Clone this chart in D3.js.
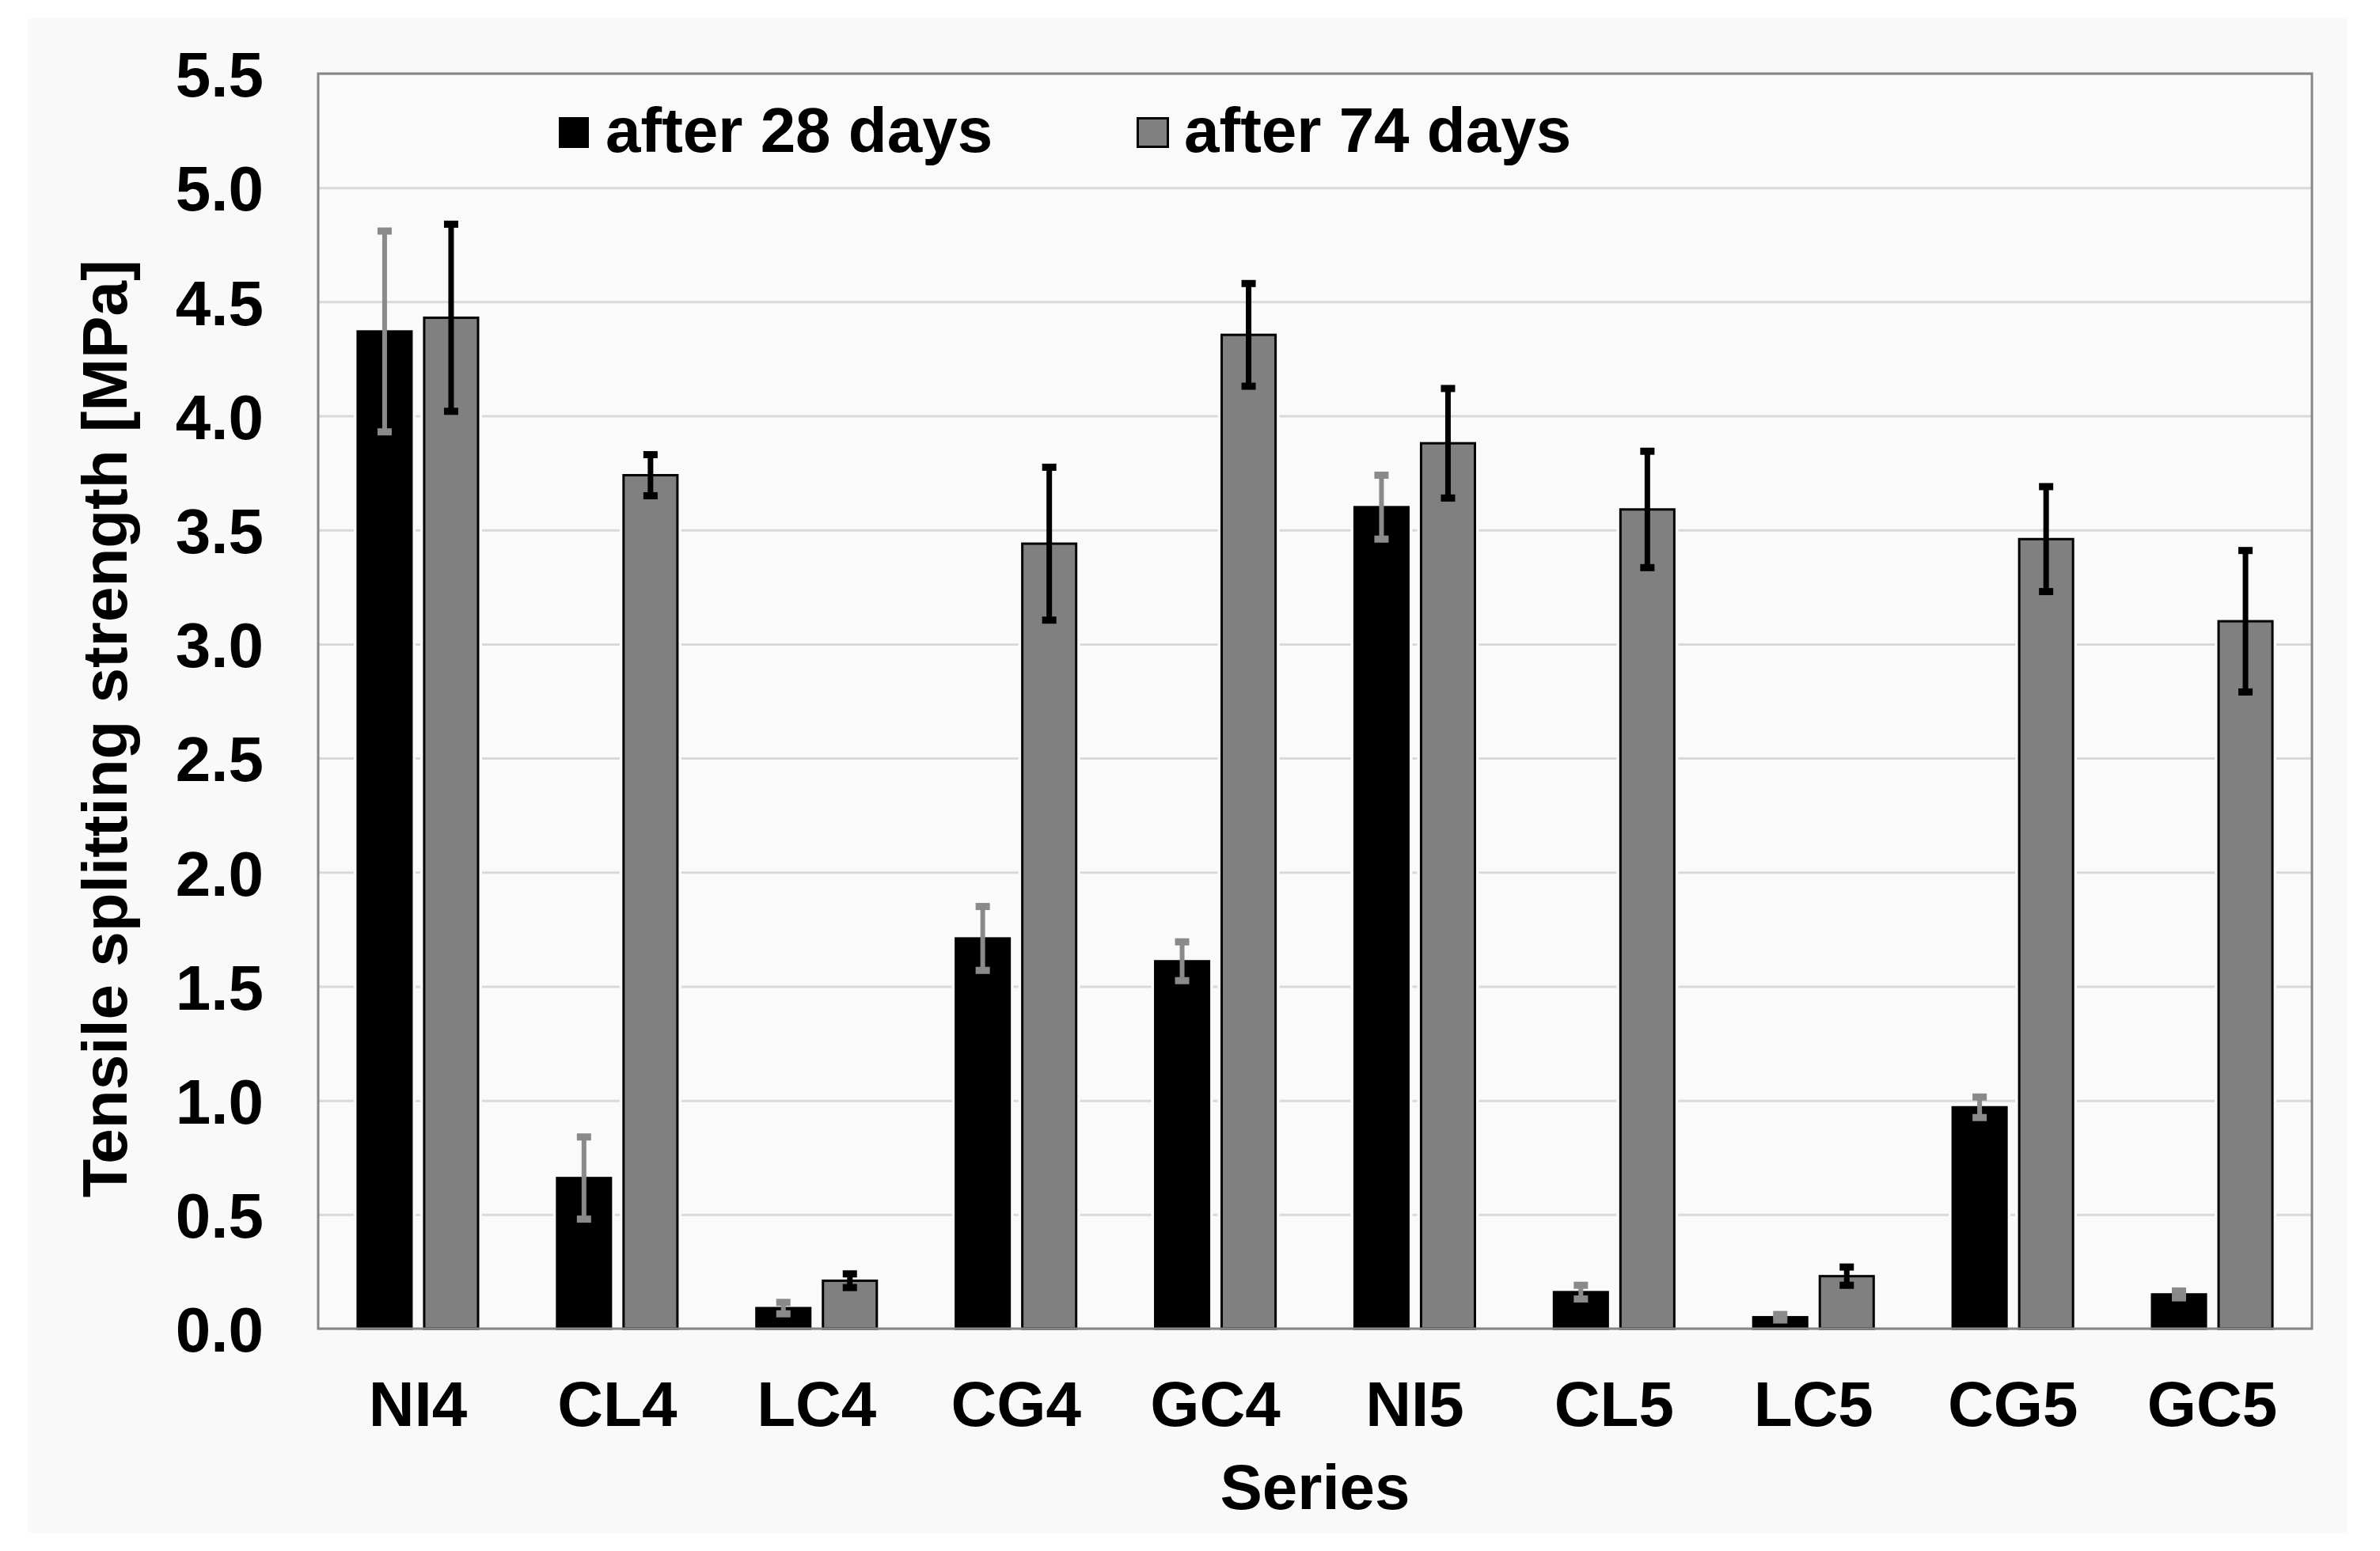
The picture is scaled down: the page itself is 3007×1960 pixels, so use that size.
<!DOCTYPE html>
<html>
<head>
<meta charset="utf-8">
<script src="https://cdn.jsdelivr.net/npm/d3@7/dist/d3.min.js"></script>
<style>
  html, body { margin: 0; padding: 0; background: #ffffff; }
  svg text { font-family: "Liberation Sans", Arial, sans-serif; font-weight: bold; fill: #000; }
</style>
</head>
<body>
<div id="chart"></div>
<script>
"use strict";

// values
var categories = ["NI4", "CL4", "LC4", "CG4", "GC4", "NI5", "CL5", "LC5", "CG5", "GC5"];
var seriesNames = ["after 28 days", "after 74 days"];
var days28 = [4.37, 0.66, 0.09, 1.71, 1.61, 3.60, 0.16, 0.05, 0.97, 0.15];
var err28 = [0.44, 0.18, 0.025, 0.14, 0.085, 0.14, 0.03, 0.012, 0.045, 0.015];
var days74 = [4.43, 3.74, 0.21, 3.44, 4.355, 3.88, 3.59, 0.23, 3.46, 3.10];
var err74 = [0.41, 0.09, 0.03, 0.335, 0.225, 0.24, 0.255, 0.04, 0.23, 0.31];
var yTicks = [0, 0.5, 1, 1.5, 2, 2.5, 3, 3.5, 4, 4.5, 5, 5.5];

var width = 3007, height = 1960;
var margin = {top: 93, right: 86, bottom: 281, left: 402};
var plotW = width - margin.left - margin.right;
var plotH = height - margin.top - margin.bottom;

var fills = ["#000000", "#808080"];
var errColors = ["#8a8a8a", "#000000"];

var rows = categories.map(function(c, i) {
	return {
		cat: c,
		bars: [
			{s: 0, v: days28[i], e: err28[i]},
			{s: 1, v: days74[i], e: err74[i]}
		]
	};
});

var svg = d3.select("#chart").append("svg")
	.attr("width", width)
	.attr("height", height);

// outer panel
svg.append("rect")
	.attr("x", 35).attr("y", 23)
	.attr("width", 2931).attr("height", 1914)
	.attr("fill", "#f9f9f9");

var g = svg.append("g")
	.attr("transform", "translate(" + margin.left + "," + margin.top + ")");

var x0 = d3.scaleBand().domain(categories).range([0, plotW]).paddingInner(0).paddingOuter(0);
var x1 = d3.scaleBand().domain([0, 1]).range([0, x0.bandwidth()]).paddingInner(0.19).paddingOuter(0.594);
var y = d3.scaleLinear().domain([0, 5.5]).range([plotH, 0]);

g.append("rect")
	.attr("width", plotW).attr("height", plotH)
	.attr("fill", "#fafafa");

// gridlines
g.append("g")
	.attr("class", "grid")
	.call(d3.axisLeft(y).tickValues(yTicks).tickSize(-plotW).tickFormat(""))
	.call(function(sel) {
		sel.select(".domain").remove();
		sel.selectAll("line").attr("stroke", "#d9d9d9").attr("stroke-width", 3);
	});

// bars
var groups = g.selectAll(".cat")
	.data(rows)
	.enter().append("g")
	.attr("class", "cat")
	.attr("transform", function(d) { return "translate(" + x0(d.cat) + ",0)"; });

// light halo that breaks the gridlines beside each bar
groups.selectAll(".halo")
	.data(function(d) { return d.bars; })
	.enter().append("rect")
	.attr("x", function(d) { return x1(d.s) - 5; })
	.attr("y", function(d) { return y(d.v) - 2; })
	.attr("width", x1.bandwidth() + 10)
	.attr("height", function(d) { return plotH - y(d.v) + 2; })
	.attr("fill", "#fafafa");

groups.selectAll(".bar")
	.data(function(d) { return d.bars; })
	.enter().append("rect")
	.attr("class", "bar")
	.attr("x", function(d) { return x1(d.s); })
	.attr("y", function(d) { return y(d.v); })
	.attr("width", x1.bandwidth())
	.attr("height", function(d) { return plotH - y(d.v); })
	.attr("fill", function(d) { return fills[d.s]; })
	.attr("stroke", "#000")
	.attr("stroke-width", 3);

// error bars
var errs = groups.selectAll(".err")
	.data(function(d) { return d.bars; })
	.enter().append("g")
	.attr("class", "err")
	.attr("transform", function(d) { return "translate(" + (x1(d.s) + x1.bandwidth() / 2) + ",0)"; });

errs.append("line")
	.attr("y1", function(d) { return y(d.v + d.e); })
	.attr("y2", function(d) { return y(d.v - d.e); })
	.attr("stroke", function(d) { return errColors[d.s]; })
	.attr("stroke-width", function(d) { return d.s === 0 ? 6 : 7; });

errs.selectAll(".cap")
	.data(function(d) { return [d.v + d.e, d.v - d.e].map(function(v) { return {v: v, s: d.s}; }); })
	.enter().append("rect")
	.attr("class", "cap")
	.attr("x", -9)
	.attr("y", function(d) { return y(d.v) - 4.5; })
	.attr("width", 18)
	.attr("height", 9)
	.attr("fill", function(d) { return errColors[d.s]; });

// plot frame
g.append("rect")
	.attr("width", plotW).attr("height", plotH)
	.attr("fill", "none")
	.attr("stroke", "#868686")
	.attr("stroke-width", 3);

// y axis labels
g.append("g")
	.call(d3.axisLeft(y).tickValues(yTicks).tickSize(0).tickPadding(69).tickFormat(d3.format(".1f")))
	.call(function(sel) {
		sel.select(".domain").remove();
		sel.selectAll("text")
			.attr("font-size", 80)
			.attr("dy", "0.36em")
			.style("font-family", "'Liberation Sans', Arial, sans-serif")
			.style("font-weight", "bold")
			.attr("fill", "#000");
	});

// x axis labels
g.append("g")
	.attr("transform", "translate(0," + plotH + ")")
	.call(d3.axisBottom(x0).tickSize(0).tickPadding(66))
	.call(function(sel) {
		sel.select(".domain").remove();
		sel.selectAll("text")
			.attr("font-size", 80)
			.style("font-family", "'Liberation Sans', Arial, sans-serif")
			.style("font-weight", "bold")
			.attr("fill", "#000");
	});

// axis titles
svg.append("text")
	.attr("x", margin.left + plotW / 2)
	.attr("y", 1907)
	.attr("text-anchor", "middle")
	.attr("font-size", 80)
	.text("Series");

svg.append("text")
	.attr("transform", "translate(160,921) rotate(-90)")
	.attr("text-anchor", "middle")
	.attr("font-size", 80)
	.text("Tensile splitting strength [MPa]");

// legend
var legendX = [706, 1436];
var legend = svg.selectAll(".legend")
	.data(seriesNames)
	.enter().append("g")
	.attr("class", "legend")
	.attr("transform", function(d, i) { return "translate(" + legendX[i] + ",148)"; });

legend.append("rect")
	.attr("x", function(d, i) { return i ? 1.5 : 0; })
	.attr("y", function(d, i) { return i ? 1.5 : 0; })
	.attr("width", function(d, i) { return i ? 38 : 38; })
	.attr("height", function(d, i) { return i ? 36 : 39; })
	.attr("fill", function(d, i) { return fills[i]; })
	.attr("stroke", "#000")
	.attr("stroke-width", function(d, i) { return i ? 3 : 0; });

legend.append("text")
	.attr("x", function(d, i) { return i ? 60 : 59; })
	.attr("y", 44)
	.attr("font-size", 80)
	.text(function(d) { return d; });
</script>
</body>
</html>
